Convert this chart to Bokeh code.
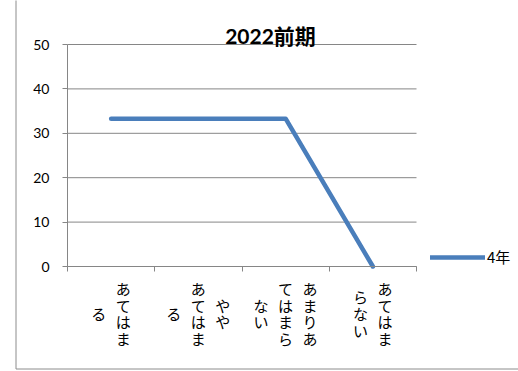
from bokeh.plotting import figure
from bokeh.models import (FixedTicker, Legend, LegendItem, Range1d, LinearAxis)
from bokeh.embed import file_html
from bokeh.resources import INLINE
from bokeh.core.properties import value

# ---- data ----
title_text = "2022前期"
categories = ["あてはまる", "ややあてはまる", "あまりあてはまらない", "あてはまらない"]
category_columns = [["あてはま", "る"], ["やや", "あてはま", "る"],
                    ["あまりあ", "てはまら", "ない"], ["あてはま", "らない"]]
series_name = "4年"
values = [33.3, 33.3, 33.3, 0.0]
y_ticks = [0, 10, 20, 30, 40, 50]
Y_MAX = 50

# ---- style / layout (pixels inside the figure) ----
GRAY = "#868686"
BORDER = "#8c8c8c"
BLUE = "#4a7ebb"
JP = "Noto Sans CJK JP"
NUM = "Lato"
FIG_W, FIG_H = 518, 371
PLOT_L, PLOT_R, PLOT_T, PLOT_B = 67, 416, 44, 266
COL_STEP = 24.5
CHAR_STEP = 16.7
LABEL_MID = 47
TITLE_CX, TITLE_CY = 270, 35
BOX_L, BOX_B = 15.5, 368.5
LEG_X, LEG_Y = 430, 104

n_cat = len(categories)
ppx = (PLOT_R - PLOT_L) / n_cat
ppy = (PLOT_B - PLOT_T) / Y_MAX
x_range = Range1d(-PLOT_L / ppx, n_cat + (FIG_W - PLOT_R) / ppx)
y_range = Range1d(-(FIG_H - PLOT_B) / ppy, Y_MAX + PLOT_T / ppy)


def dx(px):
    return x_range.start + px / ppx


def dy(py):
    return y_range.end - py / ppy


p = figure(width=FIG_W, height=FIG_H, x_range=x_range, y_range=y_range,
           output_backend="svg", toolbar_location=None, min_border=0,
           x_axis_type=None, y_axis_type=None)
p.outline_line_color = None
p.background_fill_color = "white"
p.border_fill_color = "white"

# outer chart border (left and bottom visible)
p.line(x=[dx(BOX_L), dx(BOX_L), dx(FIG_W + 5)], y=[dy(-5), dy(BOX_B), dy(BOX_B)],
       line_color=BORDER, line_width=1)

# horizontal gridlines across the plot area only
p.segment(x0=[0] * len(y_ticks), x1=[n_cat] * len(y_ticks), y0=y_ticks, y1=y_ticks,
          line_color=GRAY, line_width=1)

# axes placed at the data origin
yaxis = LinearAxis(fixed_location=0, bounds=(0, Y_MAX), ticker=FixedTicker(ticks=y_ticks),
                   major_tick_in=0, major_tick_out=5, minor_tick_line_color=None,
                   axis_line_color=GRAY, major_tick_line_color=GRAY,
                   major_label_text_font=NUM, major_label_text_font_size="14px",
                   major_label_text_color="black", major_label_standoff=13)
p.add_layout(yaxis, "left")
xaxis = LinearAxis(fixed_location=0, bounds=(0, n_cat),
                   ticker=FixedTicker(ticks=list(range(n_cat + 1))),
                   major_tick_in=0, major_tick_out=5, minor_tick_line_color=None,
                   axis_line_color=GRAY, major_tick_line_color=GRAY,
                   major_label_text_color=None)
p.add_layout(xaxis, "below")

# series
xs = [i + 0.5 for i in range(n_cat)]
r = p.line(x=xs, y=values, line_width=4.5, color=BLUE,
           line_cap="round", line_join="round")

# category labels, written vertically (top-to-bottom, columns right-to-left)
lx, ly, lt = [], [], []
for i, cols in enumerate(category_columns):
    n = len(cols)
    for j, col in enumerate(cols):
        xo = ((n - 1) / 2 - j) * COL_STEP
        m = len(col)
        for k, ch in enumerate(col):
            lx.append(xs[i] + xo / ppx)
            ly.append(dy(PLOT_B + LABEL_MID + (k - (m - 1) / 2) * CHAR_STEP))
            lt.append(ch)
p.text(x=lx, y=ly, text=lt, text_align="center", text_baseline="middle",
       text_font=value(JP), text_font_size="15px", text_color="black")

# title
p.text(x=[dx(TITLE_CX)], y=[dy(TITLE_CY)], text=[title_text],
       text_align="center", text_baseline="middle",
       text_font=value(f"{NUM}, '{JP}'"), text_font_size="21px",
       text_font_style="bold", text_color="black")

# legend
legend = Legend(items=[LegendItem(label=series_name, renderers=[r])],
                location=(LEG_X, LEG_Y), glyph_width=55, glyph_height=16,
                label_height=16, label_standoff=2, padding=0, margin=0,
                border_line_color=None, background_fill_alpha=0,
                label_text_font=JP, label_text_font_size="15px",
                label_text_color="black")
p.add_layout(legend)

open("out.html", "w").write(file_html(p, INLINE))
